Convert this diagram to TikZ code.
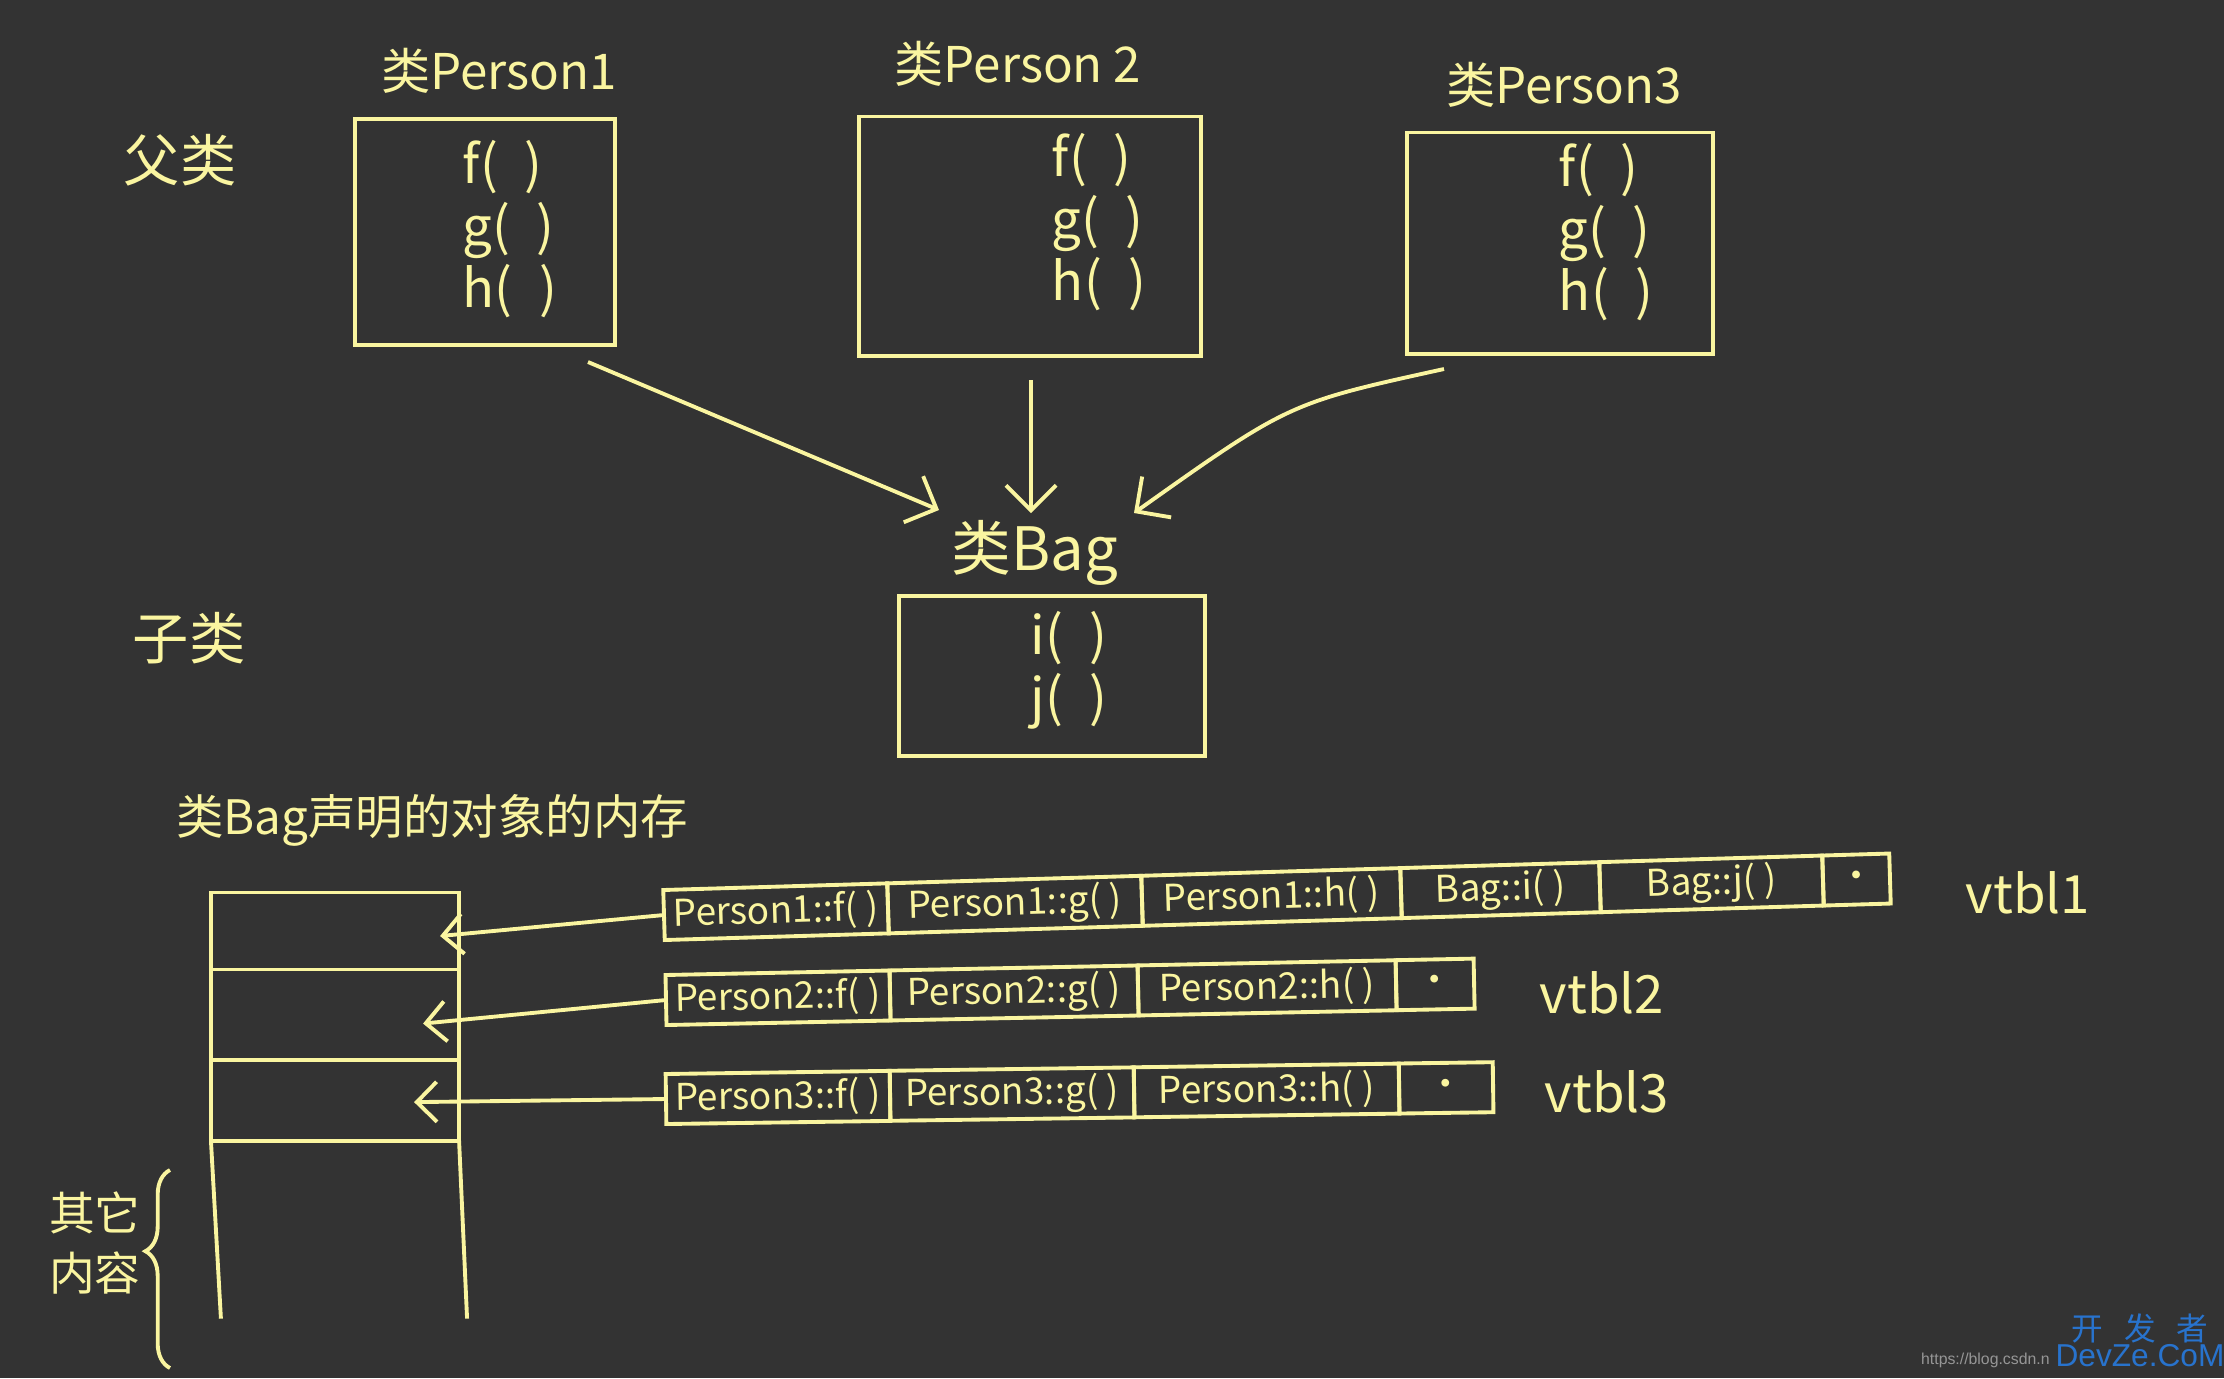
\documentclass[tikz,border=0pt]{standalone}
\usepackage{fontspec}
\newfontfamily\cjk{Noto Sans CJK SC}
\newfontfamily\wmfont{Liberation Sans}
\usetikzlibrary{positioning,calc,arrows.meta,decorations.pathreplacing}
\definecolor{board}{RGB}{51,51,51}
\definecolor{chalk}{RGB}{250,245,160}
\definecolor{wmblue}{RGB}{40,115,205}
\definecolor{wmgray}{RGB}{150,150,150}
\begin{document}
\begin{tikzpicture}[x=0.01cm,y=-0.01cm,
  every node/.style={text=chalk,font=\cjk},
  cls/.style={draw=chalk,line width=1.1pt,inner sep=0pt},
  meth/.style={font=\cjk\fontsize{15}{17.6}\selectfont,align=left},
  ttl/.style={font=\cjk\fontsize{14}{18}\selectfont},
  side/.style={font=\cjk\fontsize{16}{18}\selectfont},
  cell/.style={draw=chalk,line width=1.1pt,minimum height=0.5cm,inner sep=0pt,outer sep=0pt,font=\cjk\fontsize{10.5}{12}\selectfont},
  slot/.style={draw=chalk,line width=1.1pt,minimum width=2.48cm,inner sep=0pt,outer sep=0pt},
  vname/.style={font=\cjk\fontsize{15}{18}\selectfont},
  inh/.style={chalk,line width=1.1pt,-{Straight Barb[length=2.5mm,width=5mm]}},
  ptr/.style={chalk,line width=1.1pt,-{Straight Barb[length=2mm,width=4mm]}}]
  \useasboundingbox (0,0) rectangle (2224,1378);
  \fill[board] (0,0) rectangle (2224,1378);

  \node[side] (fu) at (180,160) {父类};
  \node[side] (zi) at (189,638) {子类};

  \node[cls,minimum width=2.6cm,minimum height=2.26cm] (p1) at (485,232) {};
  \node[ttl] (p1t) at (499,71) {类Person1};
  \node[meth] (p1m) at (510,229) {f(\enspace)\\g(\enspace)\\h(\enspace)};

  \node[cls,minimum width=3.41cm,minimum height=2.39cm] (p2) at (1030,236) {};
  \node[ttl] (p2t) at (1018,64) {类Person 2};
  \node[meth] (p2m) at (1099,222) {f(\enspace)\\g(\enspace)\\h(\enspace)};

  \node[cls,minimum width=3.05cm,minimum height=2.21cm] (p3) at (1560,243) {};
  \node[ttl] (p3t) at (1564,85) {类Person3};
  \node[meth] (p3m) at (1606,232) {f(\enspace)\\g(\enspace)\\h(\enspace)};

  \node[cls,minimum width=3.06cm,minimum height=1.6cm] (bag) at (1052,676) {};
  \node[ttl,font=\cjk\fontsize{17}{20}\selectfont] (bagt) at (1035,553) {类Bag};
  \node[meth] (bagm) at (1069,670) {i(\enspace)\\j(\enspace)};

  \draw[inh] ($(p1)+(103,130)$) -- ($(bagt)+(-96,-43)$);
  \draw[inh] ($(p2)+(1,144)$) -- ($(bagt)+(-4,-40)$);
  \draw[inh] ($(p3)+(-116,126)$) .. controls (1289,403) .. ($(bagt)+(99,-40)$);

  \node[ttl,font=\cjk\fontsize{13.5}{16}\selectfont] (memt) at (432,820) {类Bag声明的对象的内存};

  \node[slot,minimum height=0.77cm] (s1) at (335,931) {};
  \node[slot,minimum height=0.9cm,below=0pt of s1] (s2) {};
  \node[slot,minimum height=0.81cm,below=0pt of s2] (s3) {};
  \draw[chalk,line width=1.1pt] (s3.south west) -- ++(10,178) (s3.south east) -- ++(8,178);

  \begin{scope}[rotate around={1.7:(664,915)},transform shape]
    \node[cell,minimum width=2.24cm,anchor=west] (a1) at (664,915) {Person1::f( )};
    \node[cell,minimum width=2.54cm,right=0pt of a1] (b1) {Person1::g( )};
    \node[cell,minimum width=2.59cm,right=0pt of b1] (c1) {Person1::h( )};
    \node[cell,minimum width=1.99cm,right=0pt of c1] (d1) {Bag::i( )};
    \node[cell,minimum width=2.23cm,right=0pt of d1] (e1) {Bag::j( )};
    \node[cell,minimum width=0.67cm,right=0pt of e1] (z1) {•};
  \end{scope}
  \begin{scope}[rotate around={1.15:(666,1000)},transform shape]
    \node[cell,minimum width=2.24cm,anchor=west] (a2) at (666,1000) {Person2::f( )};
    \node[cell,minimum width=2.48cm,right=0pt of a2] (b2) {Person2::g( )};
    \node[cell,minimum width=2.58cm,right=0pt of b2] (c2) {Person2::h( )};
    \node[cell,minimum width=0.78cm,right=0pt of c2] (z2) {•};
  \end{scope}
  \begin{scope}[rotate around={0.8:(666,1099)},transform shape]
    \node[cell,minimum width=2.24cm,anchor=west] (a3) at (666,1099) {Person3::f( )};
    \node[cell,minimum width=2.44cm,right=0pt of a3] (b3) {Person3::g( )};
    \node[cell,minimum width=2.65cm,right=0pt of b3] (c3) {Person3::h( )};
    \node[cell,minimum width=0.94cm,right=0pt of c3] (z3) {•};
  \end{scope}

  \node[vname] (v1) at (2028,893) {vtbl1};
  \node[vname] (v2) at (1602,993) {vtbl2};
  \node[vname] (v3) at (1607,1092) {vtbl3};

  \draw[ptr] (a1.west) -- ($(s1.east)+(-19,5)$);
  \draw[ptr] (a2.west) -- ($(s2.east)+(-36,9)$);
  \draw[ptr] (a3.west) -- ($(s3.east)+(-45,2)$);

  \coordinate (bb) at (170,1368);
  \coordinate (bt) at (170,1170);
  \draw[chalk,line width=1.1pt,decorate,decoration={brace,amplitude=7pt,aspect=0.59}] (bb) -- (bt);
  \node[font=\cjk\fontsize{13}{17}\selectfont,align=center] (other) at (95,1243) {其它\\内容};

  \node[font=\wmfont\fontsize{4.5}{5}\selectfont,text=wmgray,anchor=east] (url) at (2062,1360) {https://blog.csdn.n};
  \node[font=\cjk\fontsize{9}{10}\selectfont,text=wmblue] (wm1) at (2140,1328) {开\hspace{6pt}发\hspace{6pt}者};
  \node[font=\wmfont\fontsize{9}{10}\selectfont,text=wmblue] (wm2) at (2140,1356) {DevZe.CoM};
\end{tikzpicture}
\end{document}
